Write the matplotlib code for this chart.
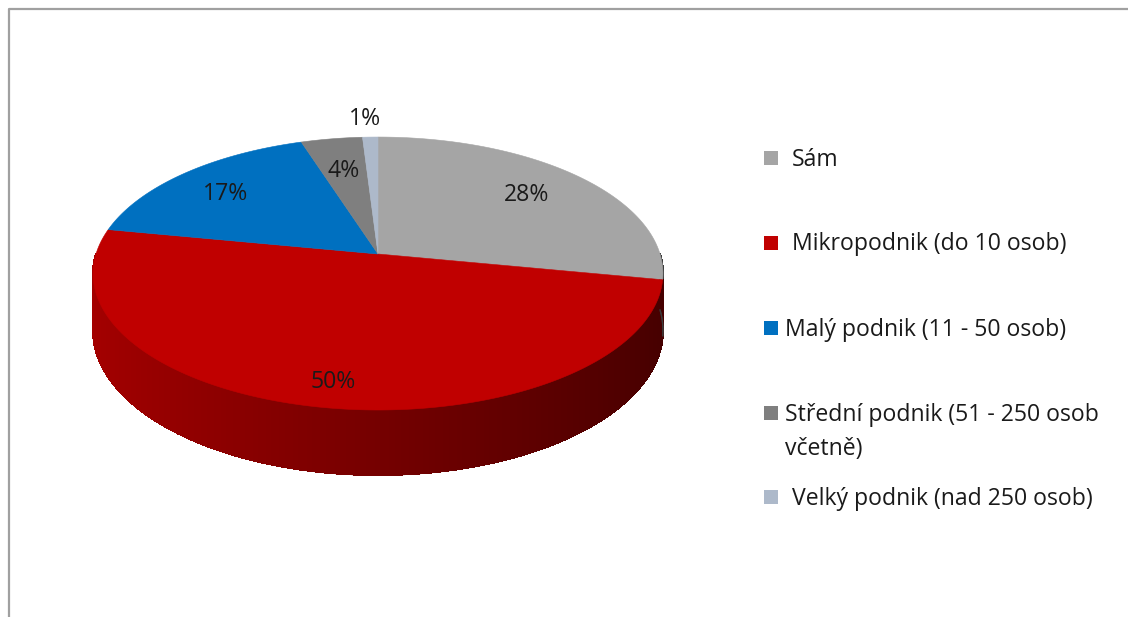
"""3D-style pie of company size shares, drawn on a pixel-unit axes."""

import numpy as np
import matplotlib

matplotlib.use("Agg")
import matplotlib.pyplot as plt  # noqa: E402
from matplotlib.collections import LineCollection, PolyCollection  # noqa: E402
from matplotlib.colors import to_rgb  # noqa: E402
from matplotlib.patches import Rectangle  # noqa: E402

# data
categories = [
    " Sám",
    " Mikropodnik (do 10 osob)",
    "Malý podnik (11 - 50 osob)",
    "Střední podnik (51 - 250 osob\nvčetně)",
    " Velký podnik (nad 250 osob)",
]
shares = [28, 50, 17, 4, 1]
colors = ["#A5A5A5", "#C00000", "#0070C0", "#7F7F7F", "#ADB9CA"]

# layout (pixels, y grows downward)
W, H = 1128, 617
CX, CY = 378, 254          # pie centre on screen
RX, RY = 282, 133.7        # horizontal / vertical radius
PERSP = 0.143              # how much the back of the disc shrinks
DEPTH = 55.7               # thickness of the disc
label_pos = [(527, 201), (333, 388), (226, 200), (344, 177), (365, 125)]
legend_y = [158, 242.5, 327.5, 413, 497]
legend_line_gap = 34

plt.rcParams["font.family"] = ["Open Sans", "DejaVu Sans"]
FS = 16.6


def project(theta_deg, drop=0.0):
    t = np.radians(theta_deg)
    u, v = np.cos(t), np.sin(t)
    s = 1.0 / (1.0 + PERSP * v)
    return CX + RX * u * s, CY - RY * v * s + drop * s


def shade(color, theta_deg):
    f = 0.86 - 0.25 * (np.cos(np.radians(theta_deg)) + 1.0)
    return tuple(np.clip(np.array(to_rgb(color)) * f, 0, 1))


fig = plt.figure(figsize=(W / 100, H / 100), dpi=100)
ax = fig.add_axes([0, 0, 1, 1])
ax.set_xlim(0, W)
ax.set_ylim(H, 0)
ax.axis("off")

# wedge angle ranges, starting at 12 o'clock and going clockwise
total = float(sum(shares))
ends = 90 - 360 * np.cumsum(shares) / total
starts = np.concatenate([[90], ends[:-1]])

# side wall (only the front half is visible)
polys, fills, rims, rim_cols = [], [], [], []
for t_hi, t_lo, col in zip(starts, ends, colors):
    lo, hi = max(t_lo, -180), min(t_hi, 0)
    if hi <= lo:
        continue
    edges = np.linspace(lo, hi, max(int((hi - lo) / 0.5), 2) + 1)
    for a, b in zip(edges[:-1], edges[1:]):
        xa, ya = project(a)
        xb, yb = project(b)
        xb2, yb2 = project(b, DEPTH)
        xa2, ya2 = project(a, DEPTH)
        polys.append([(xa, ya), (xb, yb), (xb2, yb2), (xa2, ya2)])
        fills.append(shade(col, (a + b) / 2))
        rims.append([(xa2, ya2), (xb2, yb2)])
        rim_cols.append(shade(col, (a + b) / 2))
# no antialiasing inside the wall (avoids seams), smooth rim drawn on top
ax.add_collection(PolyCollection(polys, facecolors=fills, edgecolors=fills,
                                 linewidths=0.8, antialiased=False, zorder=1))
ax.add_collection(LineCollection(rims, colors=rim_cols, linewidths=1.0,
                                 capstyle="round", zorder=1.5))

# top face
for t_hi, t_lo, col in zip(starts, ends, colors):
    th = np.linspace(t_hi, t_lo, 200)
    xs, ys = project(th)
    ax.fill(np.r_[CX, xs], np.r_[CY, ys], color=col, lw=0.4, ec=col, zorder=2)

# percentage labels
for (lx, ly), val in zip(label_pos, shares):
    ax.text(lx, ly, f"{val}%", fontsize=FS, ha="center", va="baseline",
            color="#1a1a1a", zorder=3)

# legend
for y, name, col in zip(legend_y, categories, colors):
    ax.add_patch(Rectangle((764, y - 7), 14, 14, color=col, lw=0))
    lines = name.split("\n")
    x0 = 792 if name.startswith(" ") else 785
    for i, line in enumerate(lines):
        ax.text(x0, y + 8 + i * legend_line_gap, line.strip(), fontsize=FS,
                ha="left", va="baseline", color="#1a1a1a")

# chart frame (top and left edges are inside the crop)
ax.plot([9, 9, W], [H, 9, 9], color="#A0A0A0", lw=1.6, solid_capstyle="butt")

fig.savefig("out.png", dpi=100)
